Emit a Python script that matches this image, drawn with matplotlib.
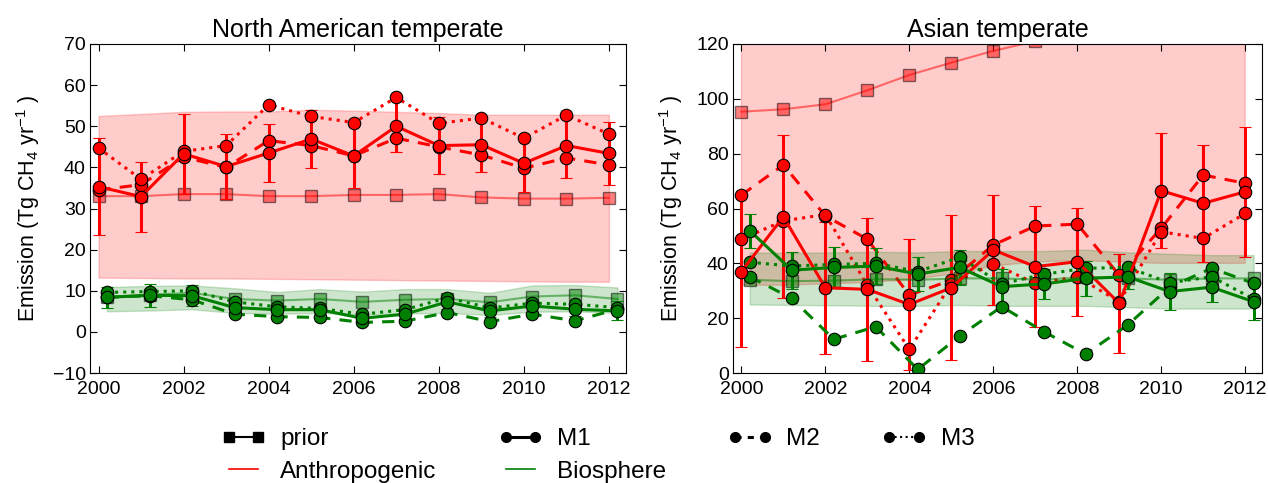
import matplotlib
matplotlib.use("Agg")
import matplotlib.pyplot as plt
from matplotlib.lines import Line2D
import numpy as np

plt.rcParams['font.family'] = ['Liberation Sans', 'DejaVu Sans']
plt.rcParams['mathtext.fontset'] = 'custom'
plt.rcParams['mathtext.rm'] = 'Liberation Sans'
plt.rcParams['mathtext.default'] = 'regular'

years = list(range(2000, 2013))
bio_shift = 0.2

# ---- North American temperate ----
na_anth_prior = [33.0, 33.0, 33.5, 33.5, 33.0, 33.0, 33.3, 33.3, 33.5, 32.7, 32.4, 32.4, 32.6]
na_anth_hi = [52.5, 53.0, 53.5, 53.6, 53.6, 54.0, 53.8, 53.5, 53.2, 52.8, 52.8, 52.8, 52.8]
na_anth_lo = [13.2, 13.1, 13.0, 13.0, 12.9, 12.8, 12.7, 12.6, 12.5, 12.4, 12.3, 12.2, 12.2]
na_anth_m1 = [35.3, 32.9, 43.3, 40.2, 43.5, 46.9, 42.8, 50.0, 45.3, 45.5, 41.0, 45.3, 43.4]
na_anth_m1_err = [11.8, 8.5, 9.7, 7.9, 7.0, 7.0, 7.8, 6.3, 7.0, 6.7, 6.9, 7.8, 7.7]
na_anth_m2 = [34.5, 35.8, 42.5, 40.0, 46.5, 45.3, 42.8, 47.1, 45.0, 43.0, 39.8, 42.3, 40.6]
na_anth_m3 = [44.7, 37.1, 43.9, 45.3, 55.2, 52.4, 50.9, 57.0, 50.7, 52.0, 47.1, 52.7, 48.1]

na_bio_prior = [8.5, 9.0, 9.5, 8.0, 7.6, 8.0, 7.3, 7.8, 8.0, 7.2, 8.6, 8.9, 8.0]
na_bio_hi = [10.9, 11.2, 11.3, 10.6, 9.7, 10.4, 9.8, 10.4, 10.4, 9.5, 11.3, 11.4, 10.8]
na_bio_lo = [5.0, 5.2, 5.5, 4.6, 4.4, 4.6, 4.2, 4.5, 4.6, 4.1, 4.9, 5.0, 4.6]
na_bio_m1 = [8.4, 8.9, 8.8, 5.9, 5.4, 5.4, 3.3, 4.3, 7.3, 5.1, 6.3, 5.5, 5.1]
na_bio_m1_err = [2.5, 2.8, 2.5, 1.8, 1.6, 1.6, 1.6, 1.7, 1.8, 1.6, 1.7, 1.7, 2.3]
na_bio_m2 = [8.4, 8.8, 7.8, 4.3, 3.7, 3.5, 2.3, 2.6, 4.7, 2.5, 4.3, 2.7, 5.5]
na_bio_m3 = [9.6, 9.8, 10.0, 7.3, 6.1, 5.7, 4.3, 5.4, 8.3, 5.8, 7.0, 6.7, 5.9]

# ---- Asian temperate ----
as_anth_prior = [95.3, 96.2, 98.0, 103.1, 108.7, 113.2, 117.5, 121.0, 124.0, 127.0, 130.0, 133.0, 135.0]
as_anth_hi = [158.0, 160.0, 163.0, 171.0, 180.0, 188.0, 195.0, 201.0, 206.0, 211.0, 216.0, 221.0, 224.0]
as_anth_lo = [32.0, 32.0, 32.5, 33.0, 34.0, 36.0, 39.0, 40.5, 41.0, 40.5, 40.0, 40.0, 40.0]
as_anth_m1 = [37.0, 57.0, 31.1, 30.5, 25.0, 31.1, 44.9, 38.8, 40.6, 25.4, 66.5, 61.9, 66.1]
as_anth_m1_err = [27.5, 29.8, 24.0, 26.0, 24.0, 26.5, 20.0, 22.0, 19.7, 18.0, 21.0, 21.3, 23.7]
as_anth_m2 = [64.9, 75.9, 57.3, 48.8, 28.4, 33.9, 46.7, 53.6, 54.3, 35.7, 52.8, 72.2, 69.2]
as_anth_m3 = [48.8, 55.5, 57.8, 32.0, 8.6, 32.5, 39.8, 32.7, 35.1, 26.0, 51.5, 49.1, 58.2]

as_bio_prior = [34.0, 33.5, 33.7, 34.2, 34.0, 34.5, 34.5, 34.0, 35.0, 34.5, 34.0, 34.5, 34.5]
as_bio_hi = [44.0, 43.8, 44.0, 44.2, 44.0, 44.5, 44.5, 44.5, 45.0, 44.0, 43.5, 43.0, 43.0]
as_bio_lo = [25.0, 24.8, 24.7, 24.5, 24.5, 24.8, 24.5, 24.5, 24.5, 24.0, 23.5, 23.5, 23.5]
as_bio_m1 = [51.9, 37.5, 38.5, 39.0, 36.1, 38.5, 31.5, 32.5, 34.5, 35.1, 29.7, 31.3, 26.0]
as_bio_m1_err = [6.2, 6.8, 7.5, 6.5, 6.2, 6.4, 6.5, 5.5, 6.5, 4.5, 6.7, 5.3, 6.7]
as_bio_m2 = [35.1, 27.2, 12.3, 16.9, 1.3, 13.5, 24.2, 15.1, 6.9, 17.5, 31.3, 38.2, 32.7]
as_bio_m3 = [40.4, 39.0, 39.6, 40.0, 37.0, 42.2, 32.5, 36.0, 38.2, 38.5, 32.9, 35.1, 27.0]

titles = ["North American temperate", "Asian temperate"]
ylims = [(-10, 70), (0, 120)]

panels = [
    dict(anth=(na_anth_prior, na_anth_lo, na_anth_hi, na_anth_m1, na_anth_m1_err, na_anth_m2, na_anth_m3),
         bio=(na_bio_prior, na_bio_lo, na_bio_hi, na_bio_m1, na_bio_m1_err, na_bio_m2, na_bio_m3)),
    dict(anth=(as_anth_prior, as_anth_lo, as_anth_hi, as_anth_m1, as_anth_m1_err, as_anth_m2, as_anth_m3),
         bio=(as_bio_prior, as_bio_lo, as_bio_hi, as_bio_m1, as_bio_m1_err, as_bio_m2, as_bio_m3)),
]

W, H = 1268, 483
fig = plt.figure(figsize=(W / 100, H / 100), dpi=100)
ax_boxes = [(90, 626), (733, 1262)]
top_px, bot_px = 44, 373

MS = 9
LW = 2.2


def draw_group(ax, x, data, color, band_alpha):
    prior, lo, hi, m1, m1e, m2, m3 = data
    ax.fill_between(x, lo, hi, color=color, alpha=band_alpha, lw=1.0)
    ax.plot(x, prior, '-s', color=color, alpha=0.5, lw=1.5, ms=8, mec='k', mew=1.0)
    ax.errorbar(x, m1, yerr=m1e, fmt='o-', color=color, lw=LW, ms=MS, mec='k', mew=0.8,
                elinewidth=LW, capsize=4, capthick=1.5)
    ax.plot(x, m2, 'o--', color=color, lw=LW, ms=MS, mec='k', mew=0.8, dashes=(4, 3))
    ax.plot(x, m3, 'o:', color=color, lw=LW, ms=MS, mec='k', mew=0.8)


for i, p in enumerate(panels):
    l, r = ax_boxes[i]
    ax = fig.add_axes([l / W, 1 - bot_px / H, (r - l) / W, (bot_px - top_px) / H])
    xa = np.array(years, dtype=float)
    xb = xa + bio_shift
    draw_group(ax, xa, p['anth'], 'r', 0.2)
    draw_group(ax, xb, p['bio'], 'g', 0.2)
    ax.set_xlim(1999.8, 2012.4)
    ax.set_ylim(*ylims[i])
    ax.set_xticks(range(2000, 2013, 2))
    ax.tick_params(direction='in', top=True, right=True, labelsize=14, length=5, width=0.8)
    ax.tick_params(axis='x', pad=6)
    ax.tick_params(axis='y', pad=3)
    ax.set_title(titles[i], fontsize=18, pad=5)
    ax.set_ylabel('Emission (Tg CH$_4$ yr$^{-1}$ )', fontsize=15.5, labelpad=8)

handles = [
    Line2D([], [], color='k', marker='s', ms=7, lw=1.5),
    Line2D([], [], color='r', lw=1.2),
    Line2D([], [], color='k', marker='o', ms=7, lw=2.2),
    Line2D([], [], color='g', lw=1.2),
    Line2D([], [], color='k', marker='o', ms=7, lw=2.2, ls='--', dashes=(2, 2)),
    Line2D([], [], color='k', marker='o', ms=7, lw=1.5, ls=':'),
]
labels = ['prior', 'Anthropogenic', 'M1', 'Biosphere', 'M2', 'M3']
fig.legend(handles, labels, ncol=4, loc='upper left', bbox_to_anchor=(222 / W, 1 - 428 / H),
           frameon=False, fontsize=17.5, handlelength=1.8, columnspacing=2.55, borderpad=0,
           borderaxespad=0, handletextpad=0.6, labelspacing=0.44, numpoints=2)

fig.savefig('out.png', dpi=100)
